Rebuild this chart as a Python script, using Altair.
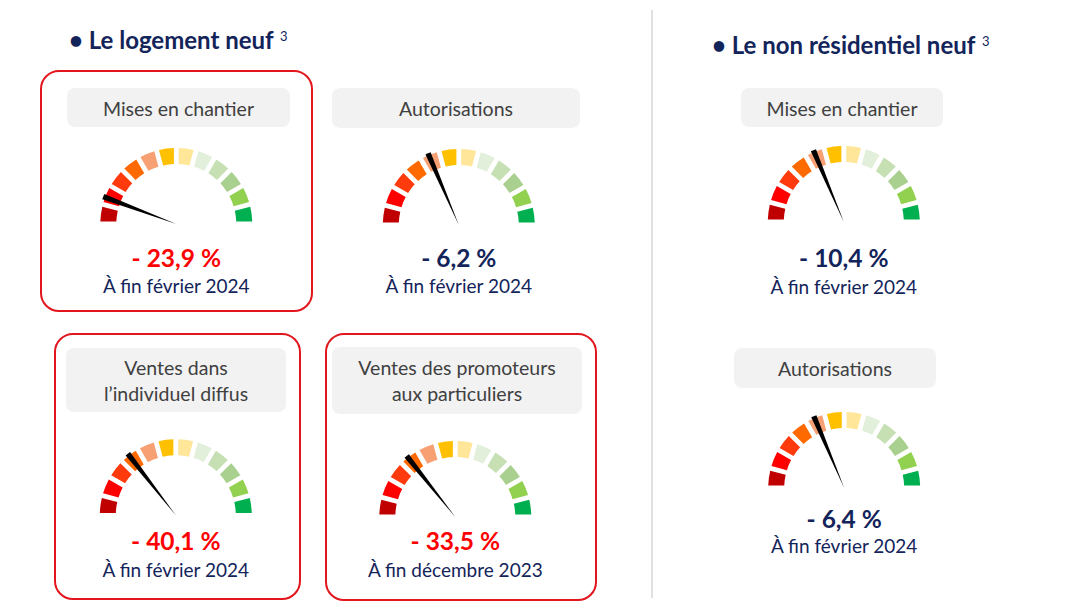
import math
import altair as alt
import pandas as pd

# ---------------- values ----------------
secteurs = ["• Le logement neuf", "• Le non résidentiel neuf"]
renvois = ["3", "3"]
indicateurs = [
    "Mises en chantier",
    "Autorisations",
    "Ventes dans\nl’individuel diffus",
    "Ventes des promoteurs\naux particuliers",
    "Mises en chantier",
    "Autorisations",
]
variations = [-23.9, -6.2, -40.1, -33.5, -10.4, -6.4]
periodes = [
    "À fin février 2024",
    "À fin février 2024",
    "À fin février 2024",
    "À fin décembre 2023",
    "À fin février 2024",
    "À fin février 2024",
]
# needle position on the 12-step dial (0 = far left, 12 = far right)
aiguilles = [1.37, 4.45, 3.47, 3.43, 4.47, 4.47]
encadres = [True, False, True, True, False, False]
couleurs_cadran = ["#C00000", "#FF0000", "#FF3A0C", "#FF6A00", "#F7A073", "#FFC000",
                   "#FFE699", "#E2EFDA", "#C6E0B4", "#A9D08E", "#92D050", "#00B050"]

# ---------------- layout (screen pixels) ----------------
titres_pos = [(69, 48.5), (712, 53.5)]
renvois_pos = [(280, 41), (982, 46)]
centres = [(176.3, 224), (458.8, 225), (175.8, 515.3), (455.3, 517), (843.8, 222), (844.2, 488)]
entetes = [(67, 290, 88, 127), (332, 580, 88, 128), (66, 286, 348, 412),
           (332, 582, 347, 414), (741, 943, 88, 127), (734, 936, 348, 388)]
entete_base = [115.7, 116, 375, 375, 115.5, 375.5]
valeur_base = [267.3, 267, 550, 550, 267, 528.3]
date_base = [293.3, 293, 577, 577, 294, 552.7]
cadres = [(41, 312, 71, 311), None, (55, 300, 334, 599), (326, 596, 334, 600), None, None]
separateur = (652, 10, 598)

NAVY = "#13245A"
RED = "#FF0000"

W, H = 1064, 595
xs = alt.Scale(domain=[8, 8 + W], nice=False, zero=False)
ys = alt.Scale(domain=[8, 8 + H], nice=False, zero=False, reverse=True)


def X(f):
    return alt.X(f, type="quantitative", scale=xs, axis=None)


def Y(f):
    return alt.Y(f, type="quantitative", scale=ys, axis=None)


# ---------------- tables ----------------
titres = pd.DataFrame({"x": [p[0] for p in titres_pos], "y": [p[1] for p in titres_pos], "t": secteurs})
exposants = pd.DataFrame({"x": [p[0] for p in renvois_pos], "y": [p[1] for p in renvois_pos], "t": renvois})

sep = pd.DataFrame({"x": [separateur[0]], "y": [separateur[1]], "y2": [separateur[2]]})

box_rows = []
for i, c in enumerate(cadres):
    if encadres[i] and c is not None:
        box_rows.append({"x": c[0], "x2": c[1], "y": c[2], "y2": c[3]})
boxes = pd.DataFrame(box_rows)

heads = pd.DataFrame({
    "x": [e[0] for e in entetes], "x2": [e[1] for e in entetes],
    "y": [e[2] for e in entetes], "y2": [e[3] for e in entetes],
    "xc": [(e[0] + e[1]) / 2 for e in entetes],
    "yb": entete_base,
    "t": indicateurs,
})


def fmt(v):
    s = f"{abs(v):.1f}".replace(".", ",")
    return ("- " if v < 0 else "+ ") + s + " %"


vals = pd.DataFrame({
    "x": [c[0] for c in centres],
    "yv": valeur_base,
    "yd": date_base,
    "v": [fmt(v) for v in variations],
    "d": periodes,
    "col": [RED if e else NAVY for e in encadres],
})

seg_rows = []
for (cx, cy) in centres:
    for i, col in enumerate(couleurs_cadran):
        seg_rows.append({
            "cx": cx, "cy": cy,
            "t0": math.radians(-90 + 15 * i),
            "t1": math.radians(-90 + 15 * (i + 1)),
            "col": col,
        })
segs = pd.DataFrame(seg_rows)

needle_rows = []
for (cx, cy), a in zip(centres, aiguilles):
    t = math.radians(-90 + 15 * a)
    needle_rows.append({"cx": cx, "cy": cy, "t0": t - 0.036, "t1": t + 0.036})
needles = pd.DataFrame(needle_rows)

# ---------------- layers ----------------
l_sep = alt.Chart(sep).mark_rule(color="#D6D6D6", strokeWidth=1.5).encode(
    x=X("x"), y=Y("y"), y2="y2")

l_boxes = alt.Chart(boxes).mark_rect(
    cornerRadius=18, fillOpacity=0, stroke="#E3161E", strokeWidth=2
).encode(x=X("x"), x2="x2", y=Y("y"), y2="y2")

l_heads = alt.Chart(heads).mark_rect(cornerRadius=8, color="#F2F2F2").encode(
    x=X("x"), x2="x2", y=Y("y"), y2="y2")

l_head_txt = alt.Chart(heads).mark_text(
    font="Lato", fontSize=19.5, color="#404040", align="center",
    baseline="alphabetic", lineBreak="\n", lineHeight=26
).encode(x=X("xc"), y=Y("yb"), text="t:N")

l_titles = alt.Chart(titres).mark_text(
    font="Lato", fontSize=24, fontWeight="bold", color=NAVY, align="left",
    baseline="alphabetic"
).encode(x=X("x"), y=Y("y"), text="t:N")

l_exp = alt.Chart(exposants).mark_text(
    font="Lato", fontSize=13, color=NAVY, align="left", baseline="alphabetic"
).encode(x=X("x"), y=Y("y"), text="t:N")

l_segs = alt.Chart(segs).mark_arc(outerRadius=76, innerRadius=60, padAngle=0.05).encode(
    x=X("cx"), y=Y("cy"),
    theta=alt.Theta("t0:Q", scale=None), theta2="t1:Q",
    color=alt.Color("col:N", scale=None))

l_needles = alt.Chart(needles).mark_arc(outerRadius=78, innerRadius=0, color="#000000").encode(
    x=X("cx"), y=Y("cy"),
    theta=alt.Theta("t0:Q", scale=None), theta2="t1:Q")

l_vals = alt.Chart(vals).mark_text(
    font="Lato", fontSize=24.5, fontWeight="bold", align="center", baseline="alphabetic"
).encode(x=X("x"), y=Y("yv"), text="v:N", color=alt.Color("col:N", scale=None))

l_dates = alt.Chart(vals).mark_text(
    font="Lato", fontSize=19, color=NAVY, align="center", baseline="alphabetic"
).encode(x=X("x"), y=Y("yd"), text="d:N")

chart = alt.layer(
    l_sep, l_boxes, l_heads, l_head_txt, l_titles, l_exp, l_segs, l_needles, l_vals, l_dates
).properties(
    width=W, height=H, padding=0, autosize=alt.AutoSizeParams(type="none"),
    background="white"
).configure_view(stroke=None)

chart.save("out.html", embed_options={"renderer": "svg", "actions": False})
